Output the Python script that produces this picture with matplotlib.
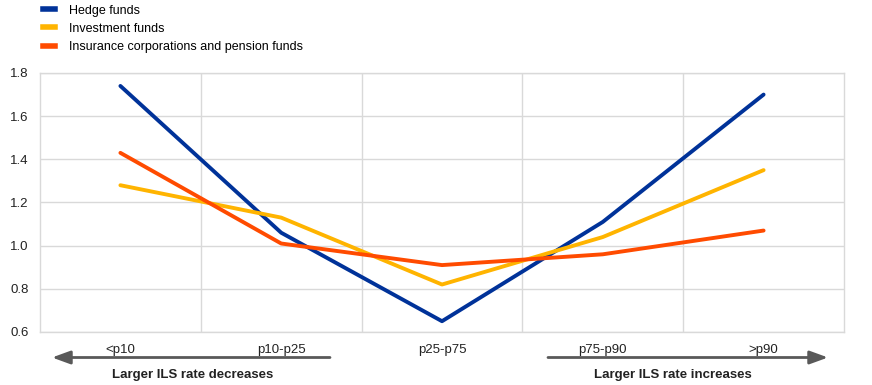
import numpy as np
import matplotlib.pyplot as plt
from matplotlib.lines import Line2D
from matplotlib.patches import FancyArrowPatch

plt.rcParams['font.family'] = ['Liberation Sans', 'DejaVu Sans']

# data
categories = ["<p10", "p10-p25", "p25-p75", "p75-p90", ">p90"]
hedge_funds = [1.74, 1.06, 0.65, 1.11, 1.70]
investment_funds = [1.28, 1.13, 0.82, 1.04, 1.35]
insurance_pension = [1.43, 1.01, 0.91, 0.96, 1.07]
series_names = ["Hedge funds", "Investment funds",
                "Insurance corporations and pension funds"]
colors = ["#003299", "#FFB400", "#FF4B00"]

W, H = 872, 385
fig = plt.figure(figsize=(W / 100, H / 100), dpi=100)
ax = fig.add_axes([40 / W, 1 - 332 / H, (844 - 40) / W, (332 - 73) / H])

x = np.arange(len(categories))
for vals, c in zip([hedge_funds, investment_funds, insurance_pension], colors):
    ax.plot(x, vals, color=c, lw=2.8, solid_capstyle='round', zorder=3)

ax.set_xlim(-0.5, len(categories) - 0.5)
ax.set_ylim(0.6, 1.8)
yt = np.arange(0.6, 1.81, 0.2)
ax.set_yticks(yt)
ax.set_yticklabels([f"{v:.1f}" for v in yt])
ax.set_xticks(x)
ax.set_xticklabels(categories)
ax.set_xticks(np.arange(0.5, len(categories) - 0.5), minor=True)

grid_c = "#d9d9d9"
ax.grid(axis='y', which='major', color=grid_c, lw=1)
ax.grid(axis='x', which='minor', color=grid_c, lw=1)
ax.grid(axis='x', which='major', visible=False)
for s in ax.spines.values():
    s.set_color(grid_c)
    s.set_linewidth(1)
ax.tick_params(which='both', length=0, labelsize=9.5, colors="#222222")
ax.tick_params(axis='x', pad=9)
ax.tick_params(axis='y', pad=8)

# legend
handles = [Line2D([], [], color=c, lw=4) for c in colors]
fig.legend(handles, series_names, loc='upper left',
           bbox_to_anchor=(38 / W, 1.001), frameon=False, fontsize=9,
           handlelength=0.95, handletextpad=1.1, labelspacing=0.5,
           borderaxespad=0)

# direction arrows
ay = 1 - 357.5 / H
arrow = dict(arrowstyle='-|>,head_length=1.1,head_width=0.4',
             mutation_scale=10, color="#595959", lw=2,
             shrinkA=0, shrinkB=0, transform=fig.transFigure)
fig.add_artist(FancyArrowPatch((330 / W, ay), (52 / W, ay), **arrow))
fig.add_artist(FancyArrowPatch((548 / W, ay), (828 / W, ay), **arrow))
fig.text(193 / W, 1 - 375 / H, "Larger ILS rate decreases", ha='center',
         va='center', fontsize=9.5, fontweight='bold', color="#222222")
fig.text(673 / W, 1 - 375 / H, "Larger ILS rate increases", ha='center',
         va='center', fontsize=9.5, fontweight='bold', color="#222222")

fig.savefig("out.png", dpi=100)
